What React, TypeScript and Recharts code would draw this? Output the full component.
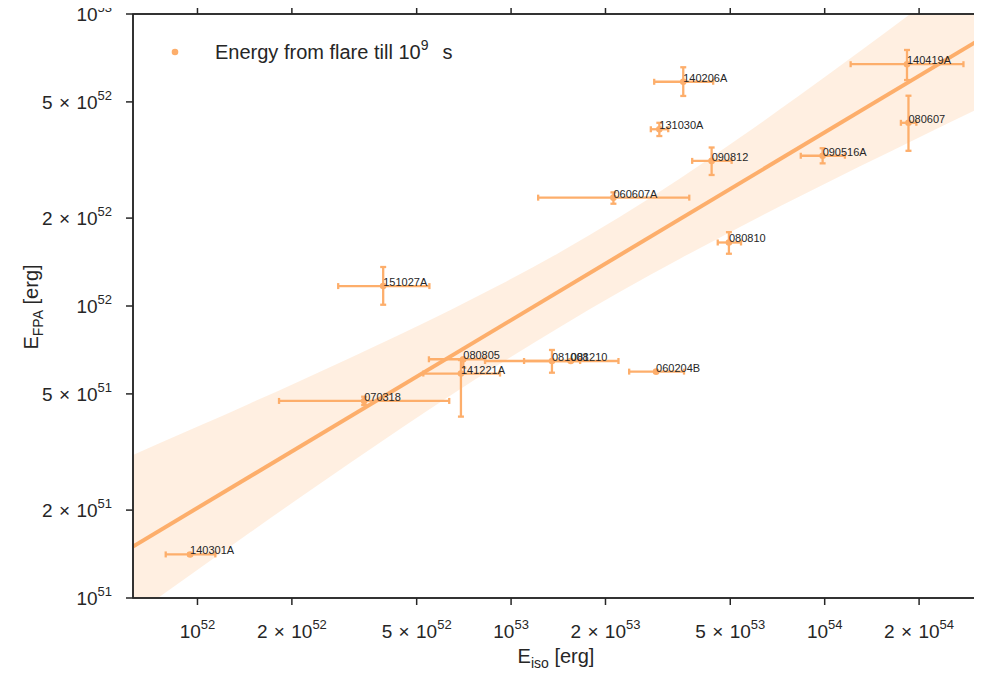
import { ComposedChart, XAxis, YAxis, Scatter, ErrorBar, Line, Area } from "recharts";

const ORANGE = "#fdae6b";
const INK = "#262626";
const FONT = "'Liberation Sans', Arial, Helvetica, sans-serif";

// GRB sample: E_iso (x) and E_FPA (y), with error ranges
const names = [
  "140419A", "080607", "140206A", "131030A", "090812", "090516A", "060607A", "080810",
  "151027A", "080805", "081008", "081210", "141221A", "070318", "140301A", "060204B",
];
const eIso = [1.83e54, 1.85e54, 3.54e53, 2.97e53, 4.36e53, 9.85e53, 2.12e53, 4.95e53, 3.91e52, 7.04e52, 1.35e53, 1.55e53, 6.92e52, 3.4e52, 9.47e51, 2.9e53];
const eIsoLo = [1.21e54, 1.75e54, 2.86e53, 2.79e53, 3.78e53, 8.39e53, 1.22e53, 4.56e53, 2.81e52, 5.47e52, 1.1e53, 8.26e52, 5.25e52, 1.82e52, 7.92e51, 2.38e53];
const eIsoHi = [2.77e54, 1.96e54, 4.41e53, 3.17e53, 5.05e53, 1.16e54, 3.7e53, 5.41e53, 5.49e52, 8.26e52, 1.66e53, 2.2e53, 9.22e52, 6.35e52, 1.14e52, 3.56e53];
const eFpa = [6.73e52, 4.24e52, 5.86e52, 4.03e52, 3.14e52, 3.27e52, 2.35e52, 1.65e52, 1.17e52, 6.57e51, 6.48e51, 6.48e51, 5.87e51, 4.73e51, 1.41e51, 5.96e51];
const eFpaLo = [5.94e52, 3.4e52, 5.24e52, 3.82e52, 2.81e52, 3.08e52, 2.24e52, 1.51e52, 1.01e52, 6.15e51, 5.91e51, 6.45e51, 4.18e51, 4.58e51, 1.4e51, 5.93e51];
const eFpaHi = [7.53e52, 5.25e52, 6.57e52, 4.24e52, 3.49e52, 3.47e52, 2.45e52, 1.79e52, 1.36e52, 6.6e51, 7.07e51, 6.51e51, 6.53e51, 4.89e51, 1.42e51, 5.99e51];

// regression line (two ends) and its confidence band
const fitX = [6.229e51, 3.105e54];
const fitY = [1.501e51, 8.147e52];
const bandX = [6.229e51, 7.594e51, 1.019e52, 1.47e52, 2.122e52, 3.064e52, 4.423e52, 6.388e52, 9.218e52, 1.432e53, 2.225e53, 3.456e53, 5.369e53, 8.342e53, 1.296e54, 2.013e54, 3.105e54];
const bandLo = [8.684e50, 1.012e51, 1.267e51, 1.675e51, 2.209e51, 2.901e51, 3.792e51, 4.926e51, 6.34e51, 8.479e51, 1.118e52, 1.452e52, 1.866e52, 2.375e52, 3.009e52, 3.794e52, 4.75e52];
const bandHi = [3.088e51, 3.392e51, 3.894e51, 4.639e51, 5.54e51, 6.636e51, 7.983e51, 9.674e51, 1.182e52, 1.528e52, 2.022e52, 2.735e52, 3.773e52, 5.277e52, 7.453e52, 1.059e53, 1.501e53];

const xTicks = [1e52, 2e52, 5e52, 1e53, 2e53, 5e53, 1e54, 2e54];
const yTicks = [1e51, 2e51, 5e51, 1e52, 2e52, 5e52, 1e53];
const xDomain = [6.229e51, 3.105e54];
const yDomain = [1e51, 1e53];

const points = names.map((name, i) => ({
  name,
  x: eIso[i],
  y: eFpa[i],
  ex: [eIso[i] - eIsoLo[i], eIsoHi[i] - eIso[i]],
  ey: [eFpa[i] - eFpaLo[i], eFpaHi[i] - eFpa[i]],
}));
const fit = fitX.map((x, i) => ({ x, y: fitY[i] }));
const band = bandX.map((x, i) => ({ x, range: [bandLo[i], bandHi[i]] }));

function powParts(v: number) {
  const e = Math.floor(Math.log10(v) + 1e-9);
  const m = Math.round(v / Math.pow(10, e));
  return { m, e };
}

function PowLabel({ x, y, anchor, value }: any) {
  const { m, e } = powParts(value);
  return (
    <text x={x} y={y} textAnchor={anchor} fill={INK} fontSize={19} fontFamily={FONT}>
      {m !== 1 ? `${m}\u2004×\u200410` : "10"}<tspan dy={-9} fontSize={13}>{e}</tspan>
    </text>
  );
}

const XTick = ({ x, y, payload }: any) => <PowLabel x={x} y={y + 31} anchor="middle" value={payload.value} />;
const YTick = ({ x, y, payload }: any) => <PowLabel x={x} y={y + 7} anchor="end" value={payload.value} />;
const NoTick = () => <g />;

const axisStyle = { stroke: INK, strokeWidth: 1.5 };

// plot box in page pixels (chart svg sits at the page origin)
const PLOT = { left: 133, top: 14, right: 979, bottom: 598 };

export default function App() {
  return (
    <div style={{ position: "relative", width: 982, height: 669, margin: "-8px 0 0 -8px", fontFamily: FONT }}>
      <ComposedChart
        width={982} height={669}
        margin={{ top: PLOT.top - 6, right: 982 - PLOT.right, bottom: 0, left: PLOT.left - 125 }}
      >
        <XAxis
          dataKey="x" type="number" scale="log" domain={xDomain} allowDataOverflow
          ticks={xTicks} tick={<XTick />} tickSize={7} tickMargin={2} height={669 - PLOT.bottom}
          axisLine={axisStyle} tickLine={axisStyle} interval={0}
        />
        <XAxis
          xAxisId="top" orientation="top" dataKey="x" type="number" scale="log" domain={xDomain}
          allowDataOverflow ticks={xTicks} tick={<NoTick />} tickSize={7} height={6}
          axisLine={axisStyle} tickLine={axisStyle} interval={0}
        />
        <YAxis
          type="number" scale="log" domain={yDomain} allowDataOverflow
          ticks={yTicks} tick={<YTick />} tickSize={7} tickMargin={14} width={125}
          axisLine={axisStyle} tickLine={axisStyle} interval={0}
        />
        <Area
          data={band} dataKey="range" type="monotone" stroke="none"
          fill={ORANGE} fillOpacity={0.2} isAnimationActive={false}
        />
        <Scatter
          data={points} dataKey="y" isAnimationActive={false}
          shape={(p: any) => <circle cx={p.cx} cy={p.cy} r={3.3} fill={ORANGE} />}
        >
          <ErrorBar dataKey="ex" direction="x" width={3} stroke={ORANGE} strokeWidth={2.3} />
          <ErrorBar dataKey="ey" direction="y" width={3} stroke={ORANGE} strokeWidth={2.3} />
        </Scatter>
        <Line
          data={fit} dataKey="y" type="linear" stroke={ORANGE} strokeWidth={4}
          dot={false} activeDot={false} isAnimationActive={false}
        />
        <Scatter
          data={points} dataKey="y" xAxisId="top" isAnimationActive={false}
          shape={(p: any) => (
            <text x={p.cx} y={p.cy} fontSize={11} fill={INK} fontFamily={FONT}>
              {p.payload.name}
            </text>
          )}
        />
      </ComposedChart>
      <svg
        width={982} height={677}
        style={{ position: "absolute", left: 0, top: 0, pointerEvents: "none", overflow: "visible" }}
        fontFamily={FONT} fill={INK}
      >
        <rect
          x={PLOT.left} y={PLOT.top} width={PLOT.right - PLOT.left} height={PLOT.bottom - PLOT.top}
          fill="none" stroke={INK} strokeWidth={1.5}
        />
        <circle cx={175} cy={52} r={3.3} fill={ORANGE} />
        <text x={215} y={59} fontSize={20}>
          Energy from flare till 10<tspan dy={-9} fontSize={14}>9</tspan>
          <tspan dy={9} dx={14}>s</tspan>
        </text>
        <text x={556} y={663} fontSize={20} textAnchor="middle">
          E<tspan dy={5} fontSize={14}>iso</tspan>
          <tspan dy={-5}> [erg]</tspan>
        </text>
        <text transform="rotate(-90)" x={-307} y={38} fontSize={20} textAnchor="middle">
          E<tspan dy={5} fontSize={14}>FPA</tspan>
          <tspan dy={-5}> [erg]</tspan>
        </text>
      </svg>
    </div>
  );
}
